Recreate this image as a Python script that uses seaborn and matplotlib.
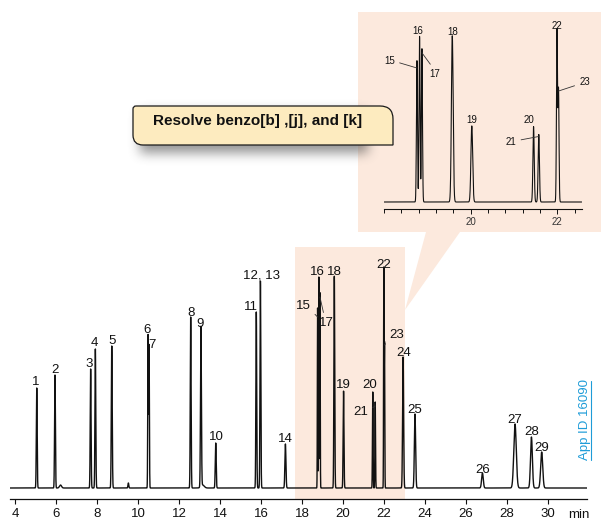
import numpy as np
import pandas as pd
import matplotlib
matplotlib.use("Agg")
import matplotlib.pyplot as plt
import matplotlib.transforms as mtransforms
from matplotlib.patches import Polygon, Rectangle, PathPatch
from matplotlib.path import Path
from matplotlib.lines import Line2D
from matplotlib.ticker import FixedLocator
import seaborn as sns

# ---- PAH peak table: label, retention time (min), apex response, peak sigma (min) ----
peak_labels = ["1", "2", "3", "4", "5", "6", "7", "8", "9", "10", "11", "12, 13",
               "14", "15", "16", "17", "18", "19", "20", "21", "22", "23", "24",
               "25", "26", "27", "28", "29"]
retention_min = [5.06, 5.95, 7.69, 7.92, 8.72, 10.49, 10.54, 12.57, 13.07, 13.79,
                 15.77, 15.97, 17.19, 18.76, 18.82, 18.875, 19.575, 20.025, 21.45,
                 21.57, 21.99, 22.025, 22.93, 23.51, 26.80, 28.39, 29.19, 29.69]
peak_height = [100, 113, 119, 139, 142, 153, 143, 171, 160, 45, 176, 207, 44,
               180, 211, 196, 212, 97, 96, 86, 219, 143, 131, 74, 15, 64, 51, 36]
peak_sigma = [0.02, 0.02, 0.02, 0.02, 0.022, 0.015, 0.015, 0.02, 0.022, 0.022,
              0.02, 0.02, 0.025, 0.012, 0.012, 0.012, 0.02, 0.02, 0.015, 0.015,
              0.012, 0.012, 0.025, 0.03, 0.04, 0.06, 0.045, 0.05]

# small baseline disturbances
bump_time = [6.22, 9.53, 13.15]
bump_height = [3, 5, 3]
bump_sigma = [0.05, 0.02, 0.08]

main_ticks = [4, 6, 8, 10, 12, 14, 16, 18, 20, 22, 24, 26, 28, 30]
zoom_major_ticks = [20, 22]
zoom_minor_ticks = [18.0, 18.4, 18.8, 19.2, 19.6, 20.4, 20.8, 21.2, 21.6, 22.4]
zoom_labels = ["15", "16", "17", "18", "19", "20", "21", "22", "23"]

callout_text = "Resolve benzo[b] ,[j], and [k]"
app_id_text = "App ID 16090"
time_unit = "min"

# ---- layout (pixels) ----
W, H, DPI = 604, 521, 100
PEACH = "#FCE9DD"
INK = "#111111"
ZOOM_SCALE = 0.785  # inset response scale relative to the main trace

# label offsets from the peak apex to the label centre (px, up positive)
main_offsets = {
    "1": (-1, 8), "2": (0, 7), "3": (-1.4, 7), "4": (-1, 8), "5": (0, 7),
    "6": (-0.7, 7), "7": (3.3, 2), "8": (0, 6), "9": (-0.7, 6), "10": (0.3, 8),
    "11": (-5, 7), "12, 13": (0.7, 7), "14": (0, 7), "16": (-1.2, 7),
    "18": (0.2, 6), "19": (-0.4, 8), "20": (-2.7, 9), "22": (0, 6),
    "24": (0.3, 6), "25": (0, 6), "26": (0, 5), "27": (0, 6), "28": (0.4, 7),
    "29": (0, 6),
}
# leader-line labels: (drop below apex px, label offset from anchor px, relpos)
main_leaders = {
    "15": (9, (-14.3, 12.3), (1, 0.2)),
    "17": (5, (6, -24.4), (0.4, 1)),
    "21": (4, (-14.3, -4), (1, 0.6)),
    "23": (0, (12.6, 11.7), (0, 0.2)),
}
zoom_offsets = {
    "16": (-1.6, 6.3), "18": (0, 4.3), "19": (0, 6), "20": (-5, 7), "22": (0.3, 5),
}
zoom_leaders = {
    "15": (7.3, (-27.3, 8), (1, 0.4)),
    "17": (4.7, (12.7, -20.3), (0.4, 1)),
    "21": (2, (-27.7, -4.7), (1, 0.6)),
    "23": (1.3, (26, 9.3), (0, 0.3)),
}

sns.set_style("white")
plt.rcParams["font.family"] = ["Liberation Sans", "DejaVu Sans"]
plt.rcParams["text.color"] = INK
plt.rcParams["xtick.color"] = INK

fig = plt.figure(figsize=(W / DPI, H / DPI), dpi=DPI)
fig.patch.set_facecolor("white")
PX = mtransforms.Affine2D().scale(1 / W, -1 / H).translate(0, 1) + fig.transFigure


def px_axes(left, top, right, bottom):
    return fig.add_axes([left / W, 1 - bottom / H, (right - left) / W, (bottom - top) / H])


# ---- chromatogram trace ----
t = np.arange(3.70, 31.95, 0.002)
signal = np.zeros_like(t)
for tr, h, s in zip(retention_min + bump_time, peak_height + bump_height,
                    peak_sigma + bump_sigma):
    signal += h * np.exp(-0.5 * ((t - tr) / s) ** 2)
trace = pd.DataFrame({"time": t, "signal": signal})

# ---- highlight band, pointer wedge and zoom panel ----
fig.add_artist(Rectangle((295, 247), 110, 252, transform=PX, fc=PEACH, ec="none", zorder=-2))
fig.add_artist(Polygon([(426, 232), (460, 232), (405, 310)], closed=True, transform=PX,
                       fc=PEACH, ec="none", zorder=-2))
fig.add_artist(Rectangle((358, 12), 243, 220, transform=PX, fc=PEACH, ec="none", zorder=-2))


def label_peaks(ax, names, offsets, leaders, yscale, fontsize, cap):
    for name in names:
        i = peak_labels.index(name)
        tr, h = retention_min[i], peak_height[i]
        style = dict(textcoords="offset pixels", ha="center", va="baseline",
                     fontsize=fontsize, color=INK)
        if name in leaders:
            drop, (dx, dy), rel = leaders[name]
            ax.annotate(name, xy=(tr, h - drop / yscale), xytext=(dx, dy - cap / 2),
                        arrowprops=dict(arrowstyle="-", lw=0.6, color="#333333",
                                        shrinkA=1.0, shrinkB=0, relpos=rel), **style)
        else:
            dx, dy = offsets[name]
            ax.annotate(name, xy=(tr, h), xytext=(dx, dy - cap / 2), **style)


# ---- main chromatogram ----
ax = px_axes(10, 240, 587, 499)
ax.patch.set_visible(False)
sns.lineplot(data=trace, x="time", y="signal", ax=ax, color=INK, linewidth=1.0,
             estimator=None, sort=False, errorbar=None)
ax.set_xlim(3.756, 31.9)
ax.set_ylim(-11, 248)
for side in ("left", "top", "right"):
    ax.spines[side].set_visible(False)
ax.spines["bottom"].set_linewidth(0.9)
ax.spines["bottom"].set_color(INK)
ax.set_xticks(main_ticks)
ax.set_xticklabels([str(v) for v in main_ticks])
ax.set_yticks([])
ax.set_xlabel("")
ax.set_ylabel("")
ax.tick_params(axis="x", direction="out", length=3.5, width=0.8, pad=3,
               labelsize=9.5, bottom=True)
label_peaks(ax, [n for n in peak_labels if n in main_offsets or n in main_leaders],
            main_offsets, main_leaders, 1.0, 9.5, 9.5)
fig.text(579, 515, time_unit, transform=PX, ha="center", va="center", fontsize=9.5)

# ---- zoomed view of peaks 15-23 ----
axz = px_axes(384, 20, 581.7, 209)
axz.patch.set_visible(False)
zoom = trace[(trace["time"] >= 18.0) & (trace["time"] <= 22.56)]
sns.lineplot(data=zoom, x="time", y="signal", ax=axz, color=INK, linewidth=0.8,
             estimator=None, sort=False, errorbar=None)
axz.set_xlim(18.0, 22.56)
axz.set_ylim(-7 / ZOOM_SCALE, 182 / ZOOM_SCALE)
for side in ("left", "top", "right"):
    axz.spines[side].set_visible(False)
axz.spines["bottom"].set_linewidth(0.8)
axz.spines["bottom"].set_color(INK)
axz.xaxis.set_major_locator(FixedLocator(zoom_major_ticks))
axz.xaxis.set_minor_locator(FixedLocator(zoom_minor_ticks))
axz.set_xticklabels([str(v) for v in zoom_major_ticks])
axz.set_yticks([])
axz.set_xlabel("")
axz.set_ylabel("")
axz.tick_params(axis="x", which="major", direction="out", length=3.5, width=0.7,
                pad=2.5, labelsize=7, labelcolor="#333333", bottom=True)
axz.tick_params(axis="x", which="minor", direction="out", length=3, width=0.7, bottom=True)
label_peaks(axz, zoom_labels, zoom_offsets, zoom_leaders, ZOOM_SCALE, 7, 7)

# ---- callout box with soft drop shadow ----
BL, BR, BT, BB = 133, 393, 106, 145
sx0, sy0, sw, sh = 115, 95, 300, 85
mask = np.zeros((sh, sw))
mask[112 - sy0:153 - sy0, 140 - sx0:368 - sx0] = 1.0


def box_blur(a, r):
    k = 2 * r + 1
    p = np.pad(a, r)
    c = np.pad(np.cumsum(np.cumsum(p, 0), 1), ((1, 0), (1, 0)))
    return (c[k:, k:] - c[:-k, k:] - c[k:, :-k] + c[:-k, :-k]) / k ** 2


for _ in range(3):
    mask = box_blur(mask, 5)
shadow = np.zeros((sh, sw, 4))
shadow[..., :3] = 0.3
shadow[..., 3] = 0.6 * mask
fig.figimage(shadow, xo=sx0, yo=H - (sy0 + sh), origin="upper", zorder=5)

rTL, rTR, rBL = 3, 13, 10
verts = [(BL + rTL, BT), (BR - rTR, BT), (BR, BT), (BR, BT + rTR), (BR, BB),
         (BL + rBL, BB), (BL, BB), (BL, BB - rBL), (BL, BT + rTL), (BL, BT),
         (BL + rTL, BT), (BL + rTL, BT)]
codes = [Path.MOVETO, Path.LINETO, Path.CURVE3, Path.CURVE3, Path.LINETO,
         Path.LINETO, Path.CURVE3, Path.CURVE3, Path.LINETO, Path.CURVE3,
         Path.CURVE3, Path.CLOSEPOLY]
fig.add_artist(PathPatch(Path(verts, codes), transform=PX, fc="#FDEBBF", ec="#1a1a1a",
                         lw=0.9, zorder=6))
fig.text(258, 121, callout_text, transform=PX, ha="center", va="center",
         fontsize=11, fontweight="bold", color=INK, zorder=7)

# ---- application reference ----
app = fig.text(585, 420, app_id_text, transform=PX, rotation=90, ha="center",
               va="center", fontsize=9.5, color="#1E9CD8")
fig.canvas.draw()
bb = app.get_window_extent()
fig.add_artist(Line2D([bb.x1 - 0.5, bb.x1 - 0.5], [bb.y0 + 1, bb.y1 - 1],
                      transform=mtransforms.IdentityTransform(), color="#1E9CD8", lw=0.8))

fig.savefig("out.png", dpi=DPI, facecolor="white")
